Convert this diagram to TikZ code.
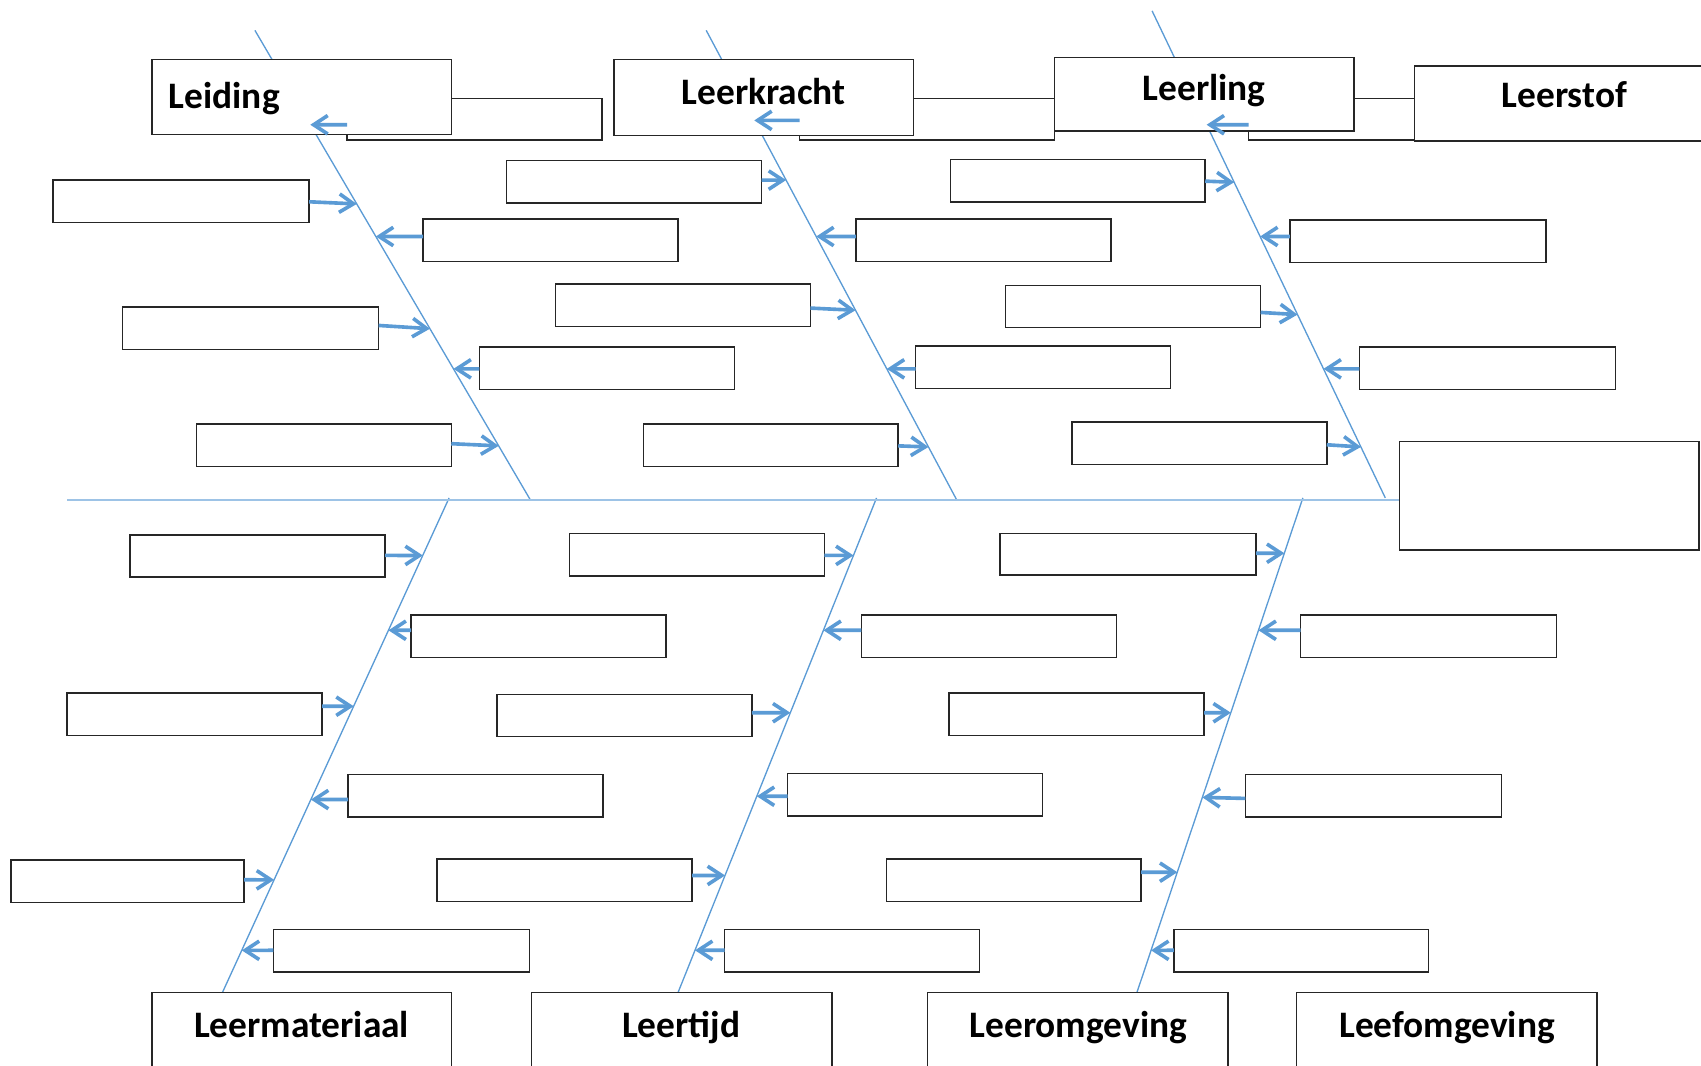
\documentclass[tikz,border=0pt]{standalone}
\usepackage{fontspec}
\setmainfont{Carlito}
\usetikzlibrary{arrows.meta,fit,calc}
\definecolor{bonec}{HTML}{5B9BD5}
\definecolor{spinec}{HTML}{9DC3E6}
\definecolor{boxline}{HTML}{262626}
\begin{document}
\begin{tikzpicture}[x=0.01cm,y=-0.01cm,
  box/.style={draw=boxline,line width=0.4pt,fill=white,inner sep=0pt,outer sep=0pt},
  bonel/.style={draw=bonec,line width=0.35pt},
  spinel/.style={draw=spinec,line width=0.6pt},
  arr/.style={draw=bonec,line width=0.95pt,-{Straight Barb[length=1.3mm,width=1.7mm,line width=0.95pt]}},
  lbl/.style={font=\fontsize{9.8}{11.7}\selectfont\bfseries,inner sep=0pt}]
\useasboundingbox (0,0) rectangle (1568,982);
\clip (0,0) rectangle (1568,982);

% bone end points
\coordinate (b1t) at (235,28);   \coordinate (b1b) at (489,461);
\coordinate (b2t) at (651,28);   \coordinate (b2b) at (882,461);
\coordinate (b3t) at (1062,10);  \coordinate (b3b) at (1277,459);
\coordinate (b4t) at (414,459);  \coordinate (b4b) at (205,915);
\coordinate (b5t) at (808,459);  \coordinate (b5b) at (625,915);
\coordinate (b6t) at (1201,459); \coordinate (b6b) at (1048,915);
\coordinate (spineL) at (62,461);

% boxes hidden behind the top headers
\foreach \nm/\xa/\ya/\xb/\yb in {h1/320/91/555/129, h2/737/91/972/129, h3/1151/91/1304/129}
  \node[box,fit={(\xa,\ya)(\xb,\yb)}] (\nm) {};

% bones
\foreach \bn in {b1,b2,b3,b4,b5,b6}
  \draw[bonel] (\bn t) -- (\bn b);

% effect box and spine
\node[box,fit={(1290,407)(1566,507)}] (eff) {};
\draw[spinel] (spineL) -- (eff.west |- spineL);

% header boxes
\node[box,fit={(140,55)(416,124)}] (leiding) {};
\node[box,fit={(566,55)(842,125)}] (leerkracht) {};
\node[box,fit={(972,53)(1248,121)}] (leerling) {};
\node[box,fit={(1304,61)(1580,130)}] (leerstof) {};
\node[box,fit={(140,915)(416,995)}] (leermat) {};
\node[box,fit={(490,915)(767,995)}] (leertijd) {};
\node[box,fit={(855,915)(1132,995)}] (leeromg) {};
\node[box,fit={(1195,915)(1472,995)}] (leefomg) {};

\node[lbl,anchor=base west] (tleiding) at (155,100) {Leiding};
\node[lbl,anchor=base] (tleerkracht) at (704,96) {Leerkracht};
\node[lbl,anchor=base] (tleerling) at (1110,93) {Leerling};
\node[lbl,anchor=base] (tleerstof) at (1442,99) {Leerstof};
\node[lbl,anchor=base] (tleermat) at (278,956) {Leermateriaal};
\node[lbl,anchor=base] (tleertijd) at (628,956) {Leertijd};
\node[lbl,anchor=base] (tleeromg) at (994,956) {Leeromgeving};
\node[lbl,anchor=base] (tleefomg) at (1334,956) {Leefomgeving};

% side boxes
\foreach \nm/\xa/\ya/\xb/\yb in {
  a1/49/166/285/205, a2/390/202/625/241, a3/113/283/349/322, a4/442/320/677/359, a5/181/391/416/430,
  c1/467/148/702/187, c2/789/202/1024/241, c3/512/262/747/301, c4/844/319/1079/358, c5/593/391/828/430,
  d1/876/147/1111/186, d2/1189/203/1425/242, d3/927/263/1162/302, d4/1253/320/1489/359, d5/988/389/1223/428,
  e1/120/493/355/532, e2/379/567/614/606, e3/62/639/297/678, e4/321/714/556/753, e5/10/793/225/832, e6/252/857/488/896,
  f1/525/492/760/531, f2/794/567/1029/606, f3/458/640/693/679, f4/726/713/961/752, f5/403/792/638/831, f6/668/857/903/896,
  g1/922/492/1158/530, g2/1199/567/1435/606, g3/875/639/1110/678, g4/1148/714/1384/753, g5/817/792/1052/831, g6/1082/857/1317/896}
  \node[box,fit={(\xa,\ya)(\xb,\yb)}] (\nm) {};

% arrows from boxes to bones
\foreach \nm/\sd/\bn/\ys/\ye in {
  h1/west/b1/115/115, h2/west/b2/111/111, h3/west/b3/115/115,
  a1/east/b1/186/188, a2/west/b1/218/218, a3/east/b1/300/303, a4/west/b1/340/340, a5/east/b1/409/411,
  c1/east/b2/166/166, c2/west/b2/218/218, c3/east/b2/284/286, c4/west/b2/340/340, c5/east/b2/411/412,
  d1/east/b3/167/168, d2/west/b3/218/218, d3/east/b3/288/290, d4/west/b3/340/340, d5/east/b3/410/412,
  e1/east/b4/512/512, e2/west/b4/581/581, e3/east/b4/651/651, e4/west/b4/737/737, e5/east/b4/811/811, e6/west/b4/876/876,
  f1/east/b5/512/512, f2/west/b5/581/581, f3/east/b5/657/657, f4/west/b5/734/734, f5/east/b5/807/807, f6/west/b5/876/876,
  g1/east/b6/510/510, g2/west/b6/581/581, g3/east/b6/657/657, g4/west/b6/736/735, g5/east/b6/804/804, g6/west/b6/876/876}
  \draw[arr] (\nm.\sd |- 0,\ys) -- (intersection cs: first line={(\bn t)--(\bn b)}, second line={(0,\ye)--(100,\ye)});
\end{tikzpicture}
\end{document}
